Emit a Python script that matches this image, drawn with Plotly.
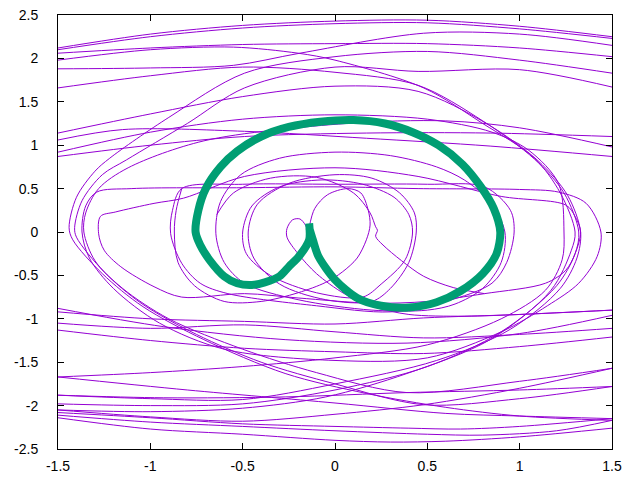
import plotly.graph_objects as go

# ---- tick labels ----
x_tick_vals = [-1.5, -1, -0.5, 0, 0.5, 1, 1.5]
x_tick_text = ["-1.5", "-1", "-0.5", "0", "0.5", "1", "1.5"]
y_tick_vals = [-2.5, -2, -1.5, -1, -0.5, 0, 0.5, 1, 1.5, 2, 2.5]
y_tick_text = ["-2.5", "-2", "-1.5", "-1", "-0.5", "0", "0.5", "1", "1.5", "2", "2.5"]

# ---- attractor (thick green closed orbit) ----
orbit_x = [-0.14, -0.14, -0.195, -0.25, -0.30, -0.38, -0.45, -0.53, -0.60, -0.68, -0.73, -0.755,
           -0.74, -0.70, -0.62, -0.53, -0.40, -0.25, -0.08, 0.10, 0.27, 0.42, 0.56, 0.69, 0.79,
           0.86, 0.895, 0.875, 0.80, 0.68, 0.55, 0.40, 0.25, 0.12, 0.0, -0.09, -0.12, -0.14]
orbit_y = [0.10, -0.09, -0.28, -0.40, -0.51, -0.58, -0.61, -0.59, -0.51, -0.32, -0.15, 0.0,
           0.25, 0.50, 0.75, 0.93, 1.10, 1.21, 1.27, 1.29, 1.25, 1.15, 1.0, 0.78, 0.52,
           0.27, 0.0, -0.25, -0.48, -0.68, -0.81, -0.87, -0.85, -0.76, -0.55, -0.28, -0.09, 0.05]

# ---- transient trajectory (thin purple), pieces ----
top_arcs_x = [
    [-1.5, -1.0, -0.5, 0.0, 0.5, 1.0, 1.5],
    [-1.5, -1.0, -0.5, 0.0, 0.5, 1.0, 1.5],
    [-1.5, -1.0, -0.55, -0.19, 0.48, 1.0, 1.5],
    [-1.5, -1.0, -0.5, 0.0, 0.5, 1.0, 1.5],
    [-1.5, -1.15, -0.49, 0.17, 0.84, 1.5],
    [-1.5, -1.0, -0.49, 0.17, 0.84, 1.5],
]
top_arcs_y = [
    [2.12, 2.28, 2.38, 2.43, 2.44, 2.37, 2.25],
    [2.10, 2.25, 2.35, 2.40, 2.41, 2.34, 2.23],
    [1.88, 1.89, 1.92, 2.06, 2.29, 2.28, 2.15],
    [2.06, 2.12, 2.16, 2.17, 2.17, 2.12, 2.02],
    [1.06, 1.18, 1.16, 1.08, 0.99, 0.87],
    [0.87, 1.00, 1.10, 1.14, 1.14, 1.10],
]

bottom_arcs_x = [
    [-1.5, -1.0, -0.5, 0.0, 0.3, 0.6, 1.0, 1.5],
    [-1.5, -1.0, -0.5, 0.0, 0.5, 0.8, 1.2, 1.5],
    [-1.5, -1.0, -0.5, 0.0, 0.4, 0.68, 1.0, 1.5],
    [-1.5, -0.8, 0.0, 0.6, 1.0, 1.5],
    [-1.5, -0.93, -0.27, 0.39, 1.0, 1.5],
    [-1.5, -1.0, -0.5, 0.0, 0.48, 1.0, 1.5],
    [-1.5, -0.93, -0.27, 0.39, 1.0, 1.5],
    [-1.5, -1.0, -0.49, 0.0, 0.48, 1.0, 1.5],
    [-1.5, -1.0, -0.49, 0.0, 0.48, 1.0, 1.5],
    [-1.5, -1.0, -0.49, 0.0, 0.48, 1.0, 1.5],
]
bottom_arcs_y = [
    [-2.14, -2.27, -2.33, -2.40, -2.42, -2.41, -2.36, -2.26],
    [-2.11, -2.19, -2.24, -2.29, -2.33, -2.34, -2.29, -2.17],
    [-2.08, -2.14, -2.21, -2.24, -2.26, -2.27, -2.24, -2.15],
    [-1.67, -1.82, -1.97, -2.09, -2.12, -2.15],
    [-1.88, -1.91, -1.90, -1.85, -1.82, -1.78],
    [-2.05, -2.13, -2.18, -2.10, -1.99, -1.80, -1.57],
    [-0.88, -1.09, -1.24, -1.28, -1.17, -0.96],
    [-1.05, -1.11, -1.07, -1.15, -1.22, -1.18, -1.11],
    [-1.13, -1.25, -1.34, -1.38, -1.40, -1.32, -1.21],
    [-0.92, -1.00, -1.03, -1.06, -0.99, -0.95, -0.90],
]

left_loops_x = [
    [1.5, 1.0, 0.6, 0.17, -0.27, -0.71, -1.04, -1.26, -1.42, -1.44, -1.40, -1.30, -1.22, -0.9, -0.49, 0.0, 0.5, 1.0, 1.5],
    [1.5, 1.0, 0.48, 0.0, -0.4, -0.75, -1.05, -1.25, -1.40, -1.41, -1.37, -1.26, -1.13, -0.8, -0.49, 0.0, 0.45, 1.0, 1.5],
    [1.5, 1.0, 0.39, -0.1, -0.5, -0.9, -1.15, -1.30, -1.36, -1.35, -1.28, -1.12, -0.71, 0.06, 0.6, 1.0, 1.5],
    [0.2, -0.2, -0.49, -0.83, -0.98, -1.16, -1.25, -1.28, -1.27, -1.19, -0.98, -0.82, -0.49, 0.0, 0.45,
     0.90, 1.25, 1.30, 1.33, 1.30, 1.25, 1.14, 0.81, 0.5, 0.2],
    [0.5, 0.0, -0.6, -0.95, -1.2, -1.33, -1.37, -1.35, -1.29, -1.1, -0.5, 0.0, 0.45, 1.0, 1.21, 1.36, 1.44,
     1.42, 1.32, 1.15, 0.9, 0.5],
    [0.3, -0.1, -0.58, -0.73, -0.83, -0.89, -0.88, -0.83, -0.5, 0.0, 0.5, 0.81, 0.95, 0.97, 0.93,
     0.85, 0.6, 0.3],
]
left_loops_y = [
    [-2.17, -2.12, -2.02, -1.86, -1.63, -1.24, -0.86, -0.48, -0.09, 0.05, 0.40, 0.70, 0.85, 1.32, 1.83, 2.02, 2.08, 1.98, 1.83],
    [-1.78, -1.92, -1.99, -1.75, -1.50, -1.18, -0.82, -0.46, -0.06, 0.05, 0.36, 0.66, 0.83, 1.25, 1.66, 1.90, 1.85, 1.87, 1.67],
    [-1.57, -1.72, -1.85, -1.62, -1.35, -1.0, -0.65, -0.33, 0.0, 0.22, 0.50, 0.74, 1.05, 1.25, 1.28, 1.20, 0.98],
    [-0.82, -0.76, -0.71, -0.75, -0.63, -0.40, -0.21, -0.02, 0.18, 0.23, 0.33, 0.39, 0.64, 0.74, 0.64,
     0.41, 0.31, 0.18, 0.0, -0.25, -0.44, -0.59, -0.71, -0.80, -0.82],
    [-1.45, -1.48, -1.35, -1.05, -0.65, -0.3, 0.0, 0.3, 0.46, 0.50, 0.51, 0.52, 0.50, 0.49, 0.46, 0.33, 0.0,
     -0.28, -0.59, -0.85, -1.15, -1.45],
    [-0.92, -0.85, -0.71, -0.59, -0.36, -0.02, 0.25, 0.50, 0.55, 0.55, 0.55, 0.52, 0.25, 0.0, -0.35,
     -0.59, -0.80, -0.92],
]

right_loops_x = [
    [-1.5, -1.0, -0.55, -0.2, 0.0, 0.48, 0.8, 1.08, 1.22, 1.30, 1.28, 1.17, 0.84, 0.39, -0.05, -0.5, -1.0, -1.5],
    [-1.5, -1.0, -0.5, 0.0, 0.45, 0.8, 1.08, 1.24, 1.32, 1.30, 1.20, 0.9, 0.5, 0.0, -0.5, -1.0, -1.5],
    [-1.5, -1.0, -0.5, 0.0, 0.45, 0.82, 1.1, 1.26, 1.33, 1.31, 1.22, 0.95, 0.55, 0.0, -0.5, -1.0, -1.5],
    [-1.5, -1.0, -0.5, 0.0, 0.5, 0.85, 1.05, 1.21, 1.24, 1.23, 1.14, 0.9, 0.5, 0.0, -0.5, -1.0, -1.5],
]
right_loops_y = [
    [1.98, 2.10, 2.13, 2.06, 1.98, 1.66, 1.25, 0.85, 0.45, 0.0, -0.21, -0.67, -1.24, -1.63, -1.90, -2.03, -2.07, -2.05],
    [1.66, 1.80, 1.90, 1.84, 1.69, 1.28, 0.84, 0.45, 0.0, -0.25, -0.62, -1.15, -1.55, -1.82, -1.98, -2.0, -1.98],
    [1.14, 1.36, 1.56, 1.68, 1.62, 1.25, 0.82, 0.42, 0.0, -0.30, -0.65, -1.12, -1.48, -1.75, -1.93, -1.92, -1.88],
    [0.92, 1.15, 1.30, 1.35, 1.30, 1.15, 0.94, 0.56, 0.0, -0.32, -0.67, -1.00, -1.30, -1.45, -1.55, -1.62, -1.67],
]

inner_x = [
    [-0.14, -0.11, -0.04, 0.07, 0.14, 0.18, 0.19, 0.17, 0.12, 0.04, -0.05, -0.2, -0.4, -0.6, -0.76, -0.85,
     -0.87, -0.86, -0.83],
    [-0.14, -0.16, -0.19, -0.23, -0.26, -0.26, -0.20, -0.10, 0.05, 0.21, 0.40, 0.7, 1.0, 1.5],
    [-0.64, -0.55, -0.35, -0.1, 0.1, 0.19, 0.22, 0.23, 0.22, 0.26, 0.36, 0.48, 0.64, 0.81],
    [0.15, -0.1, -0.35, -0.48, -0.50, -0.45, -0.3, -0.07, 0.15, 0.32, 0.40, 0.42, 0.38, 0.25, 0.15],
    [0.2, -0.05, -0.3, -0.44, -0.47, -0.42, -0.25, 0.0, 0.2, 0.35, 0.43, 0.44, 0.40, 0.3, 0.2],
    [0.5, 0.2, -0.2, -0.49, -0.6, -0.645, -0.62, -0.51, -0.3, 0.0, 0.3, 0.55, 0.7, 0.84, 0.92, 0.9, 0.8, 0.65, 0.5],
]
inner_y = [
    [0.05, 0.27, 0.43, 0.50, 0.45, 0.25, 0.08, -0.09, -0.30, -0.46, -0.58, -0.70, -0.80, -0.80, -0.62,
     -0.35, 0.0, 0.25, 0.50],
    [-0.02, 0.08, 0.15, 0.14, 0.04, -0.06, -0.25, -0.48, -0.71, -0.86, -0.95, -0.97, -0.95, -0.90],
    [0.20, 0.45, 0.62, 0.63, 0.45, 0.22, 0.06, 0.02, -0.05, -0.15, -0.33, -0.51, -0.64, -0.71],
    [-0.75, -0.70, -0.50, -0.25, 0.0, 0.30, 0.52, 0.60, 0.55, 0.40, 0.2, 0.0, -0.32, -0.60, -0.75],
    [-0.80, -0.78, -0.60, -0.30, 0.0, 0.32, 0.56, 0.66, 0.62, 0.45, 0.22, 0.0, -0.35, -0.65, -0.80],
    [-0.9, -0.9, -0.78, -0.59, -0.35, -0.02, 0.35, 0.66, 0.85, 0.92, 0.88, 0.75, 0.6, 0.35, 0.0,
     -0.35, -0.65, -0.83, -0.9],
]


def join(segments):
    out = []
    for seg in segments:
        out.extend(seg)
        out.append(None)
    return out


PURPLE = "#9400d3"
GREEN = "#009e73"

fig = go.Figure()
for gx, gy in [(top_arcs_x, top_arcs_y), (bottom_arcs_x, bottom_arcs_y),
               (left_loops_x, left_loops_y), (right_loops_x, right_loops_y),
               (inner_x, inner_y)]:
    fig.add_trace(go.Scatter(x=join(gx), y=join(gy), mode="lines",
                             line=dict(color=PURPLE, width=1, shape="spline", smoothing=0.9),
                             connectgaps=False, showlegend=False, hoverinfo="skip"))

fig.add_trace(go.Scatter(x=orbit_x, y=orbit_y, mode="lines",
                         line=dict(color=GREEN, width=8, shape="spline", smoothing=0.8),
                         showlegend=False, hoverinfo="skip"))

axis_common = dict(showgrid=False, zeroline=False, showline=True, linecolor="black",
                   linewidth=1, mirror="allticks", ticks="inside", ticklen=6,
                   tickcolor="black", automargin=False,
                   tickfont=dict(family="Liberation Sans, Arial", size=14, color="black"))

fig.update_layout(
    width=640, height=480,
    margin=dict(l=58, r=28, t=15, b=31, autoexpand=False),
    paper_bgcolor="white", plot_bgcolor="white",
    xaxis=dict(range=[-1.5, 1.5], tickvals=x_tick_vals, ticktext=x_tick_text,
               ticklabelstandoff=4, **axis_common),
    yaxis=dict(range=[-2.5, 2.5], tickvals=y_tick_vals, ticktext=y_tick_text,
               ticklabelstandoff=16, **axis_common),
)

fig.write_html("out.html", config={"displayModeBar": False},
               post_script="document.body.style.margin='0';document.body.style.overflow='hidden';")
